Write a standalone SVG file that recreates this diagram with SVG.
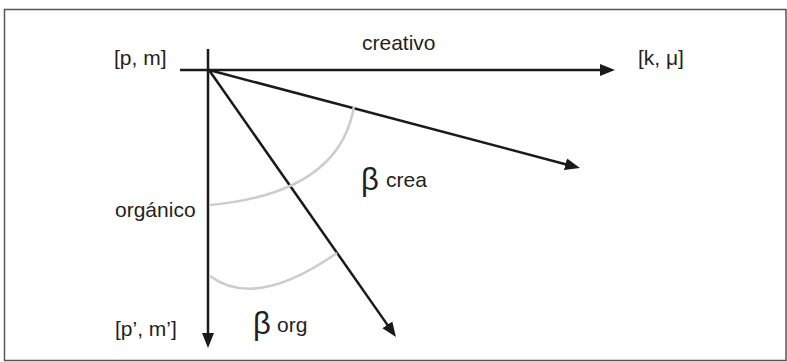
<svg xmlns="http://www.w3.org/2000/svg" width="787" height="362" viewBox="0 0 787 362">
  <style>
    .frame { fill: #ffffff; stroke: #555555; stroke-width: 1.5; }
    .axis { stroke: #1a1a1a; stroke-width: 2.5; fill: none; }
    .arc { stroke: #cccccc; stroke-width: 2.5; fill: none; }
    .lbl { font-family: "Liberation Sans", Arial, sans-serif; font-size: 21px; fill: #231f20; }
    .beta { font-family: "Liberation Sans", Arial, sans-serif; font-size: 31px; fill: #231f20; }
  </style>
  <defs>
    <marker id="ah" markerUnits="userSpaceOnUse" markerWidth="16" markerHeight="14" refX="2" refY="6" orient="auto">
      <path d="M0,0 L15,6 L0,12 z" fill="#1a1a1a"/>
    </marker>
  </defs>
  <rect class="frame" x="4.5" y="9.5" width="781.5" height="351"/>
  <g id="connectors">
    <line class="axis" x1="180" y1="70" x2="602" y2="70" marker-end="url(#ah)"/>
    <line class="axis" x1="208" y1="49" x2="208" y2="335" marker-end="url(#ah)"/>
    <line class="axis" x1="209" y1="70" x2="567.4" y2="164.7" marker-end="url(#ah)"/>
    <line class="axis" x1="209" y1="70" x2="388.5" y2="326.4" marker-end="url(#ah)"/>
  </g>
  <g id="arcs">
    <path class="arc" d="M354,106 Q340,193 210,205"/>
    <path class="arc" d="M210,276 Q255,310 337,253"/>
  </g>
  <g id="node-pm"><text class="lbl" x="114" y="65">[p, m]</text></g>
  <g id="node-creativo"><text class="lbl" x="362" y="50">creativo</text></g>
  <g id="node-kmu"><text class="lbl" x="638" y="65">[k, μ]</text></g>
  <g id="node-organico"><text class="lbl" x="115" y="217">orgánico</text></g>
  <g id="node-pm2"><text class="lbl" x="115" y="336">[p’, m’]</text></g>
  <g id="node-bcrea"><text class="beta" x="361" y="190">β</text><text class="lbl" x="386" y="187" font-size="20">crea</text></g>
  <g id="node-borg"><text class="beta" x="253" y="334">β</text><text class="lbl" x="277" y="332" font-size="20">org</text></g>
</svg>
